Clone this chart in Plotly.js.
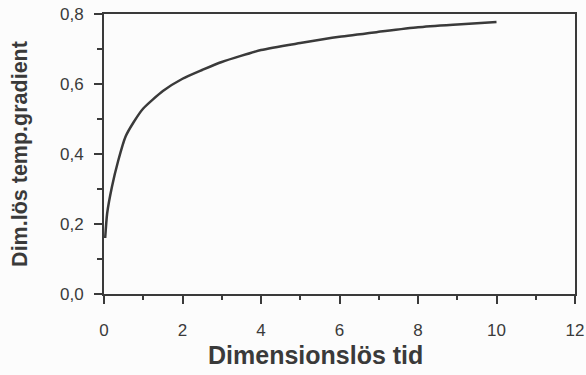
<!DOCTYPE html>
<html>
<head>
<meta charset="utf-8">
<script src="https://cdn.plot.ly/plotly-3.0.1.min.js"></script>
<style>html,body{margin:0;padding:0;background:#fcfcfc;}#chart{width:586px;height:375px;}</style>
</head>
<body>
<div id="chart"></div>
<script>
const timeValues = [0.03, 0.08, 0.2, 0.36, 0.55, 0.75, 1.0, 1.5, 2.0, 2.5, 3.0, 4.0, 5.0, 6.0, 7.0, 8.0, 9.0, 10.0];
const gradientValues = [0.16, 0.23, 0.305, 0.38, 0.45, 0.49, 0.53, 0.58, 0.615, 0.64, 0.663, 0.697, 0.717, 0.735, 0.749, 0.762, 0.770, 0.777];
const xTitle = 'Dimensionslös tid';
const yTitle = 'Dim.lös temp.gradient';

const ink = '#3a3a3a';
const trace = {
  x: timeValues, y: gradientValues, mode: 'lines', type: 'scatter',
  line: {color: ink, width: 2.5, shape: 'spline', smoothing: 0.6},
  hoverinfo: 'none'
};
const layout = {
  width: 586, height: 375,
  margin: {l: 104, r: 11, t: 14, b: 81},
  paper_bgcolor: '#fcfcfc', plot_bgcolor: '#fcfcfc',
  separators: ', ',
  showlegend: false,
  font: {family: 'Liberation Sans, Arial, sans-serif', color: ink},
  xaxis: {
    range: [0, 12], dtick: 2, tick0: 0, showgrid: false, zeroline: false,
    showline: true, linecolor: ink, linewidth: 2, mirror: true,
    ticks: 'outside', ticklen: 8, tickwidth: 2, tickcolor: ink,
    ticklabelstandoff: 12,
    minor: {dtick: 1, ticks: 'outside', ticklen: 4, tickwidth: 2, tickcolor: ink, showgrid: false},
    tickfont: {size: 17, color: ink}
  },
  yaxis: {
    range: [0, 0.8], dtick: 0.2, tick0: 0, tickformat: '.1f', showgrid: false, zeroline: false,
    showline: true, linecolor: ink, linewidth: 2, mirror: true,
    ticks: 'outside', ticklen: 8, tickwidth: 2, tickcolor: ink,
    ticklabelstandoff: 7,
    minor: {dtick: 0.1, ticks: 'outside', ticklen: 5, tickwidth: 2, tickcolor: ink, showgrid: false},
    tickfont: {size: 17, color: ink},
    title: {text: yTitle, font: {size: 21.5, color: ink, weight: 'bold'}, standoff: 26}
  },
  annotations: [{
    text: xTitle, xref: 'paper', yref: 'paper', x: 0.448, y: -0.218,
    xanchor: 'center', yanchor: 'middle', showarrow: false,
    font: {size: 25, color: ink, weight: 'bold'}
  }]
};
Plotly.newPlot('chart', [trace], layout, {staticPlot: true, displayModeBar: false});
</script>
</body>
</html>
